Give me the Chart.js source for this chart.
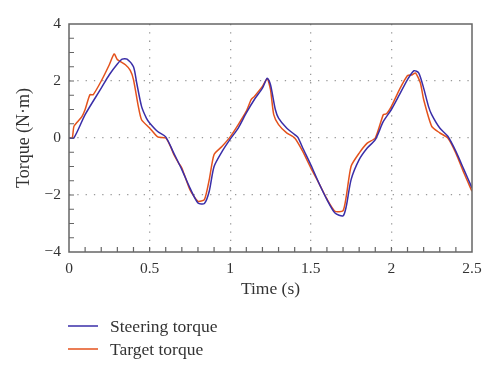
<!DOCTYPE html>
<html lang="en">
<head>
  <meta charset="UTF-8" />
  <title>Steering torque vs target torque</title>
  <script src="https://cdn.jsdelivr.net/npm/chart.js"></script>
  <style>
    body {
      margin: 0;
      padding: 0;
      background: #fff;
    }
    #wrap {
      width: 500px;
      height: 376px;
    }
  </style>
</head>
<body>

<div id="wrap"><canvas id="torqueChart"></canvas></div>

<script>
  // Steering torque (blue)
  const steerTime = [0, 0.03, 0.1, 0.2, 0.25, 0.3, 0.33, 0.36, 0.4, 0.42, 0.45, 0.48, 0.5, 0.55, 0.6, 0.65, 0.7, 0.75, 0.8, 0.84, 0.87, 0.9, 0.95, 1.0, 1.05, 1.1, 1.15, 1.2, 1.23, 1.25, 1.28, 1.3, 1.35, 1.4, 1.42, 1.45, 1.5, 1.55, 1.6, 1.65, 1.7, 1.72, 1.75, 1.8, 1.85, 1.9, 1.95, 2.0, 2.05, 2.1, 2.14, 2.17, 2.2, 2.23, 2.25, 2.3, 2.35, 2.4, 2.45, 2.5];
  const steerTorque = [0, 0, 0.82, 1.75, 2.22, 2.6, 2.77, 2.77, 2.5, 1.93, 1.11, 0.7, 0.53, 0.23, 0.04, -0.53, -1.11, -1.75, -2.28, -2.3, -1.87, -1.0, -0.47, -0.04, 0.35, 0.88, 1.35, 1.75, 2.1, 1.87, 1.0, 0.7, 0.35, 0.12, 0.02, -0.35, -0.94, -1.58, -2.16, -2.63, -2.73, -2.4, -1.46, -0.76, -0.35, -0.06, 0.58, 1.0, 1.52, 2.05, 2.36, 2.28, 1.75, 1.11, 0.82, 0.35, 0.06, -0.47, -1.11, -1.75];

  // Target torque (orange)
  const targetTime = [0, 0.02, 0.03, 0.05, 0.08, 0.1, 0.13, 0.15, 0.2, 0.25, 0.28, 0.3, 0.35, 0.38, 0.4, 0.43, 0.45, 0.5, 0.55, 0.6, 0.63, 0.65, 0.68, 0.7, 0.75, 0.8, 0.84, 0.87, 0.9, 0.95, 1.0, 1.05, 1.1, 1.13, 1.15, 1.2, 1.23, 1.25, 1.27, 1.3, 1.35, 1.4, 1.45, 1.5, 1.55, 1.6, 1.65, 1.7, 1.72, 1.75, 1.8, 1.85, 1.9, 1.95, 1.97, 2.0, 2.05, 2.1, 2.13, 2.15, 2.18, 2.2, 2.25, 2.3, 2.35, 2.4, 2.45, 2.5];
  const targetTorque = [0, 0, 0.4, 0.55, 0.75, 1.0, 1.52, 1.52, 2.0, 2.57, 2.95, 2.75, 2.57, 2.37, 2.05, 1.11, 0.64, 0.35, 0.04, 0, -0.3, -0.58, -0.88, -1.05, -1.81, -2.22, -2.16, -1.46, -0.58, -0.29, 0.04, 0.47, 0.94, 1.35, 1.46, 1.81, 2.08, 1.7, 0.82, 0.47, 0.18, 0, -0.47, -1.05, -1.58, -2.14, -2.57, -2.55, -2.05, -0.99, -0.53, -0.18, 0, 0.82, 0.85, 1.11, 1.7, 2.19, 2.22, 2.28, 1.93, 1.35, 0.41, 0.18, 0, -0.53, -1.23, -1.87];

  const xTicks = [0, 0.5, 1, 1.5, 2, 2.5];
  const yTicks = [-4, -2, 0, 2, 4];

  const serif = '"Liberation Serif", "DejaVu Serif", serif';
  const textColor = '#333';

  function toPoints(xs, ys) {
    return xs.map((x, i) => ({ x: x, y: ys[i] }));
  }

  // frame, inward minor ticks and the legend under the plot
  const framePlugin = {
    id: 'frame',
    afterDraw(chart) {
      const ctx = chart.ctx;
      const a = chart.chartArea;
      const xs = chart.scales.x;
      const ys = chart.scales.y;
      ctx.save();
      ctx.strokeStyle = '#666';
      ctx.lineWidth = 1.5;
      ctx.strokeRect(a.left, a.top, a.right - a.left, a.bottom - a.top);

      ctx.lineWidth = 1.2;
      ctx.beginPath();
      for (let i = 1; i < 25; i++) {
        const px = xs.getPixelForValue(i / 10);
        ctx.moveTo(px, a.bottom);
        ctx.lineTo(px, a.bottom - 5);
      }
      for (let i = 1; i < 16; i++) {
        const py = ys.getPixelForValue(-4 + i / 2);
        ctx.moveTo(a.left, py);
        ctx.lineTo(a.left + 5, py);
      }
      ctx.stroke();

      ctx.font = '17.5px ' + serif;
      ctx.textBaseline = 'middle';
      chart.data.datasets.forEach((ds, i) => {
        const y = 326 + i * 23;
        ctx.strokeStyle = ds.borderColor;
        ctx.lineWidth = 1.5;
        ctx.beginPath();
        ctx.moveTo(68, y);
        ctx.lineTo(98, y);
        ctx.stroke();
        ctx.fillStyle = textColor;
        ctx.fillText(ds.label, 110, y + 1);
      });
      ctx.restore();
    }
  };

  const gridColor = (ctx, ends) => {
    const v = ctx.tick ? ctx.tick.value : null;
    return (v === ends[0] || v === ends[1]) ? 'rgba(0,0,0,0)' : '#999';
  };

  const ctx = document.getElementById('torqueChart').getContext('2d');
  const torqueChart = new Chart(ctx, {
    type: 'line',
    data: {
      datasets: [
        {
          label: 'Steering torque',
          data: toPoints(steerTime, steerTorque),
          borderColor: '#3a2ea8',
          borderWidth: 1.5,
          pointRadius: 0,
          tension: 0.25
        },
        {
          label: 'Target torque',
          data: toPoints(targetTime, targetTorque),
          borderColor: '#e4521c',
          borderWidth: 1.5,
          pointRadius: 0,
          tension: 0.2
        }
      ]
    },
    options: {
      responsive: true,
      maintainAspectRatio: false,
      animation: false,
      layout: {
        padding: { left: 0, top: 24, right: 28, bottom: 76 }
      },
      plugins: {
        legend: { display: false },
        tooltip: { enabled: false }
      },
      scales: {
        x: {
          type: 'linear',
          min: 0,
          max: 2.5,
          afterBuildTicks: s => { s.ticks = xTicks.map(v => ({ value: v })); },
          afterFit: s => { s.height = 48; },
          ticks: {
            padding: 8,
            color: textColor,
            font: { family: serif, size: 15.5 },
            callback: v => String(v)
          },
          grid: {
            drawTicks: false,
            color: c => gridColor(c, [0, 2.5]),
            lineWidth: 1.3
          },
          border: { display: false, dash: [1.3, 7] },
          title: {
            display: true,
            text: 'Time (s)',
            color: textColor,
            font: { family: serif, size: 17.5 },
            padding: { top: 0, bottom: 0 }
          }
        },
        y: {
          min: -4,
          max: 4,
          afterBuildTicks: s => { s.ticks = yTicks.map(v => ({ value: v })); },
          afterFit: s => { s.width = 69; },
          ticks: {
            padding: 8,
            color: textColor,
            font: { family: serif, size: 15.5 },
            callback: v => String(v).replace('-', '\u2212')
          },
          grid: {
            drawTicks: false,
            color: c => gridColor(c, [-4, 4]),
            lineWidth: 1.3
          },
          border: { display: false, dash: [1.3, 7] },
          title: {
            display: true,
            text: 'Torque (N\u00b7m)',
            color: textColor,
            font: { family: serif, size: 18 },
            padding: { top: 13, bottom: 0 }
          }
        }
      }
    },
    plugins: [framePlugin]
  });
</script>

</body>
</html>
